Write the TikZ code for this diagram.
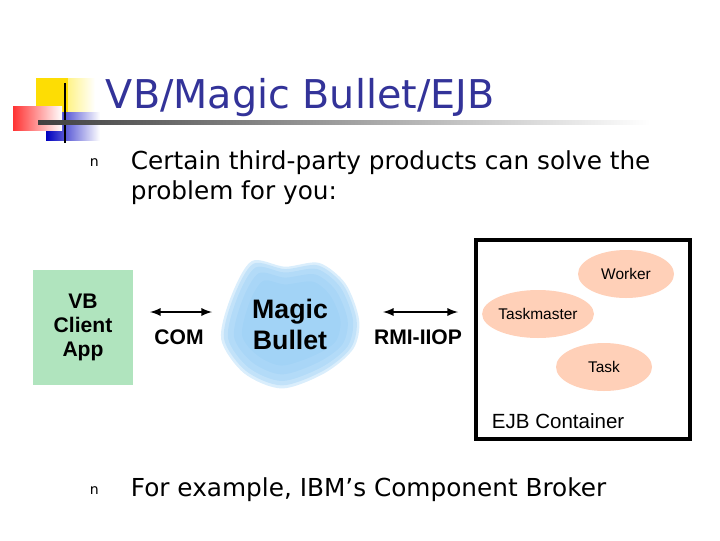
\documentclass[tikz,border=0pt]{standalone}
\usepackage{fontspec}
\setmainfont{DejaVu Sans}
\newfontfamily\arialfont{Liberation Sans}
\usetikzlibrary{positioning,shapes.geometric}
\definecolor{titleblue}{RGB}{51,51,153}
\definecolor{vbgreen}{RGB}{176,228,190}
\definecolor{cloudblue}{RGB}{150,205,245}
\definecolor{beanpeach}{RGB}{255,208,184}
\newlength{\px}\setlength{\px}{0.025cm}
\tikzset{
  bean/.style={ellipse, fill=beanpeach, minimum width=96\px, minimum height=48\px,
    inner sep=0pt, font=\arialfont\fontsize{11}{12}\selectfont},
  label/.style={font=\arialfont\bfseries\fontsize{15}{17}\selectfont, align=center},
  link/.style={latex-latex, line width=1.6pt},
  bullet/.style={font=\fontsize{10}{10}\selectfont, anchor=base west},
  body/.style={font=\fontsize{17.6}{21.5}\selectfont, anchor=base west}
}
\begin{document}
\begin{tikzpicture}[x=0.025cm, y=-0.025cm]
    \useasboundingbox (0,0) rectangle (720,540);
    % logo
    \fill[left color=yellow!80!orange, right color=white] (36,78) rectangle (95,115);
    \fill[yellow!80!orange] (36,78) rectangle (68,115);
    \fill[left color=blue!75!black, right color=white] (46,112) rectangle (100,140);
    \fill[left color=red!80, right color=white] (13,106) rectangle (62,130);
    \draw[line width=1.5pt] (65,83) -- (65,143);
    \shade[left color=black!75, right color=white] (38,120.5) rectangle (650,124);
    \node[anchor=base west, text=titleblue, font=\fontsize{28.2}{32}\selectfont] (Title) at (101,108) {VB/Magic Bullet/EJB};
    % bullets
    \node[bullet] (BulOne) at (85,166) {n};
    \node[body] (TextOne) at (126,169) {Certain third-party products can solve the};
    \node[body] (TextOneB) at (126,199) {problem for you:};
    \node[bullet] (BulTwo) at (85,494) {n};
    \node[body] (TextTwo) at (126,496) {For example, IBM’s Component Broker};
    % diagram
    \node[fill=vbgreen, minimum width=100\px, minimum height=115\px, label, font=\arialfont\bfseries\fontsize{15}{17}\selectfont] (Client) at (83,327.5) {VB\\Client\\App};
    \foreach \op in {0.08,0.15,0.25,0.4,0.6}{
      \fill[cloudblue, opacity=0.35] plot[smooth cycle] coordinates {
        (290+72-36*\op,320) (290+58-30*\op,320-38+22*\op) (290+30-12*\op,320-60+36*\op)
        (290-5,320-56+34*\op) (290-40+22*\op,320-62+38*\op) (290-62+36*\op,320-24+10*\op)
        (290-72+40*\op,320+20-8*\op) (290-48+26*\op,320+56-34*\op) (290-8,320+72-44*\op)
        (290+36-20*\op,320+56-34*\op) (290+66-34*\op,320+30-14*\op)};
    }
    \node[label, font=\arialfont\bfseries\fontsize{19}{22}\selectfont] (Bullet) at (290,324) {Magic\\Bullet};
    \coordinate (ComL) at (150,312);
    \coordinate (ComR) at (212,312);
    \draw[link] (ComL) -- (ComR);
    \node[label] (Com) at (179,337) {COM};
    \coordinate (RmiL) at (383,312);
    \coordinate (RmiR) at (458,312);
    \draw[link] (RmiL) -- (RmiR);
    \node[label] (Rmi) at (418,337) {RMI-IIOP};
    \draw[line width=2.2pt] (476,240) rectangle (690,439);
    \node[bean] (Worker) at (626,274) {Worker};
    \node[bean] (Taskmaster) at (538,314) {Taskmaster};
    \node[bean] (Task) at (604,367) {Task};
    \node[label, anchor=west, font=\arialfont\fontsize{14.6}{16}\selectfont] (Container) at (487,421) {EJB Container};
\end{tikzpicture}
\end{document}
